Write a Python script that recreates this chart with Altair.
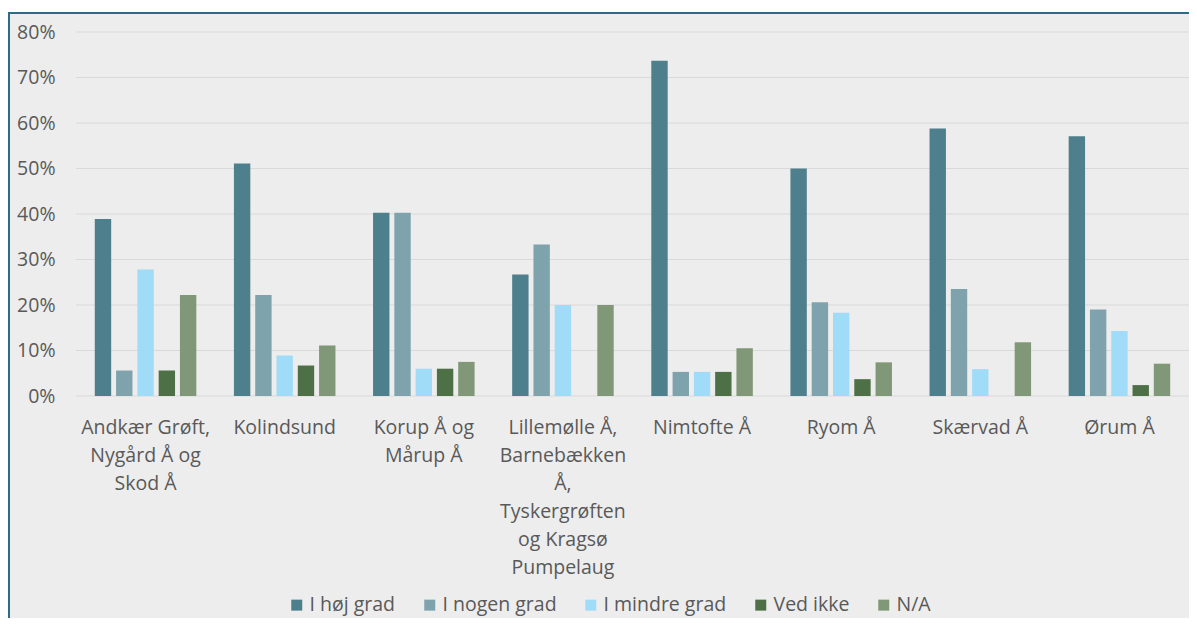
import altair as alt
import pandas as pd

# Category labels (line breaks marked with "|")
categories = [
    "Andkær Grøft,|Nygård Å og|Skod Å",
    "Kolindsund",
    "Korup Å og|Mårup Å",
    "Lillemølle Å,|Barnebækken|Å,|Tyskergrøften|og Kragsø|Pumpelaug",
    "Nimtofte Å",
    "Ryom Å",
    "Skærvad Å",
    "Ørum Å",
]
series = ["I høj grad", "I nogen grad", "I mindre grad", "Ved ikke", "N/A"]
colors = ["#4E7F8C", "#7FA3AD", "#A0DCF8", "#4E7047", "#809877"]

hoej_grad = [0.389, 0.511, 0.403, 0.267, 0.737, 0.500, 0.588, 0.571]
nogen_grad = [0.056, 0.222, 0.403, 0.333, 0.053, 0.206, 0.235, 0.190]
mindre_grad = [0.278, 0.089, 0.060, 0.200, 0.053, 0.183, 0.059, 0.143]
ved_ikke = [0.056, 0.067, 0.060, 0.0, 0.053, 0.037, 0.0, 0.024]
na_values = [0.222, 0.111, 0.075, 0.200, 0.105, 0.074, 0.118, 0.071]

y_ticks = [0.0, 0.1, 0.2, 0.3, 0.4, 0.5, 0.6, 0.7, 0.8]

rows = []
for s, vals in zip(series, [hoej_grad, nogen_grad, mindre_grad, ved_ikke, na_values]):
    for c, v in zip(categories, vals):
        rows.append({"cat": c, "series": s, "value": v})
df = pd.DataFrame(rows)

W, H = 1113, 364
FONT = "Open Sans"
GRAY = "#595959"
FS = 19.5

y_scale = alt.Scale(domain=[0, 0.8], nice=False)
y_axis = alt.Axis(
    title=None,
    values=y_ticks,
    format=".0%",
    grid=False,
    domain=False,
    ticks=False,
    labelPadding=21,
    labelFontSize=FS,
    labelColor=GRAY,
    labelFont=FONT,
    zindex=1,
)

bg = alt.Chart(pd.DataFrame({"k": [0]})).mark_rect(
    fill="#EDEDED", stroke="#2E6B85", strokeWidth=2
).encode(
    x=alt.value(-67), x2=alt.value(W + 40), y=alt.value(-19), y2=alt.value(H + 400)
)

grid = alt.Chart(pd.DataFrame({"value": y_ticks})).mark_rule(
    color="#D9D9D9", strokeWidth=1
).encode(
    y=alt.Y("value:Q", scale=y_scale, axis=y_axis)
)

bars = alt.Chart(df).mark_bar().encode(
    x=alt.X(
        "cat:N",
        sort=categories,
        scale=alt.Scale(paddingInner=0.235, paddingOuter=0.1175),
        axis=alt.Axis(
            title=None,
            labelExpr="split(datum.label, '|')",
            labelAngle=0,
            labelAlign="center",
            labelBaseline="top",
            labelLineHeight=28,
            labelPadding=22,
            labelFontSize=FS,
            labelColor=GRAY,
            labelFont=FONT,
            domain=False,
            ticks=False,
            grid=False,
            labelLimit=0,
            labelOverlap=False,
            labelFlush=False,
            zindex=1,
        ),
    ),
    xOffset=alt.XOffset(
        "series:N", sort=series, scale=alt.Scale(paddingInner=0.23, paddingOuter=0.115)
    ),
    y=alt.Y("value:Q", scale=y_scale, axis=y_axis),
    color=alt.Color(
        "series:N",
        sort=series,
        scale=alt.Scale(domain=series, range=colors),
        legend=alt.Legend(
            title=None,
            orient="none",
            legendX=211,
            legendY=563,
            direction="horizontal",
            symbolType="square",
            symbolSize=121,
            symbolStrokeWidth=0,
            labelFontSize=FS,
            labelColor=GRAY,
            labelFont=FONT,
            columnPadding=24,
            labelOffset=3,
            padding=0,
            zindex=1,
        ),
    ),
)

chart = alt.layer(bg, grid, bars).properties(
    width=W,
    height=H,
    background="white",
    padding={"left": 68, "top": 24, "right": 0, "bottom": 222},
    autosize=alt.AutoSizeParams(type="none"),
).configure_view(stroke=None)

chart.save("out.html", embed_options={"renderer": "svg", "actions": False})
